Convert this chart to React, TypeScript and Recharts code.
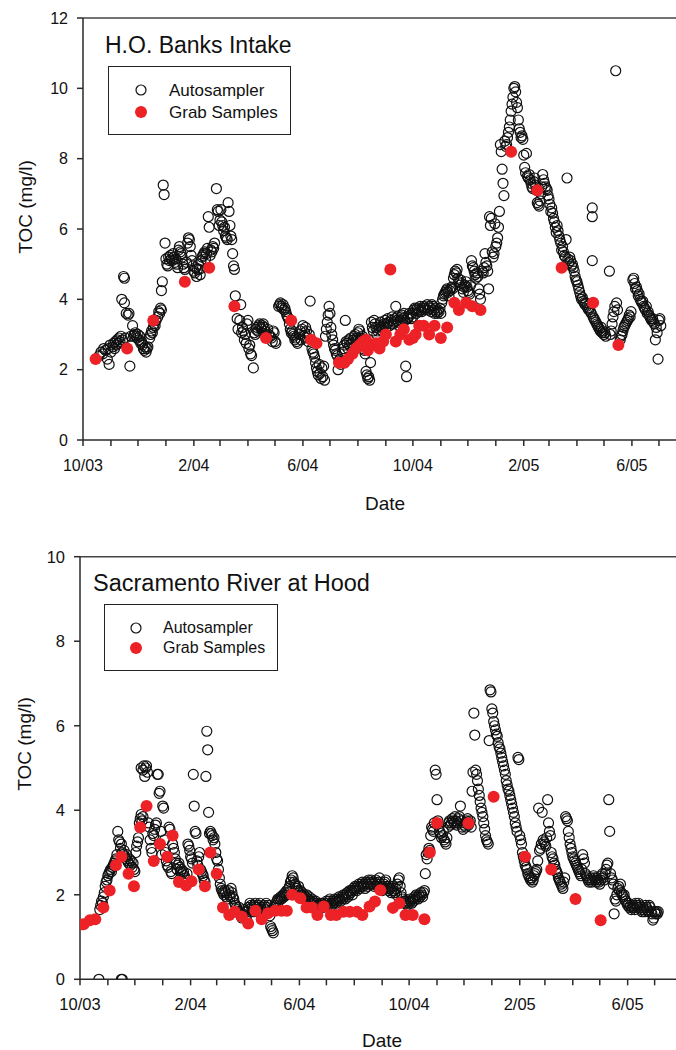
import React from 'react';
import { ScatterChart, Scatter, XAxis, YAxis, ReferenceLine } from 'recharts';

// x = days since 10/1/2003
const monthTicks = [0, 31, 61, 92, 123, 152, 183, 213, 244, 274, 305, 336, 366, 397, 427, 458, 489, 517, 548, 578, 609, 639];
const majorTicks = [0, 123, 244, 366, 489, 609];
const majorLabels = ['10/03', '2/04', '6/04', '10/04', '2/05', '6/05'];

const banksTicks = [0, 2, 4, 6, 8, 10, 12];
const hoodTicks = [0, 2, 4, 6, 8, 10];

// H.O. Banks Intake, autosampler [day, TOC mg/l]
const banksAuto = [
  [18, 2.4], [20, 2.5], [22, 2.45], [23, 2.6], [25, 2.55], [27, 2.3], [28, 2.6], [29, 2.15], [30, 2.7], [31, 2.5],
  [33, 2.65], [34, 2.75], [35, 2.6], [36, 2.8], [37, 2.7], [38, 2.85], [39, 2.75], [40, 2.9], [41, 2.8], [42, 2.95],
  [43, 4.0], [44, 2.85], [45, 4.65], [46, 4.6], [46, 3.9], [47, 2.9], [48, 3.6], [50, 3.55], [51, 3.6], [52, 2.1],
  [53, 2.95], [55, 3.25], [56, 2.95], [57, 3.0], [58, 3.05], [59, 2.95], [60, 2.9], [61, 3.0], [62, 2.85], [63, 2.95],
  [64, 2.75], [65, 2.8], [66, 2.7], [67, 2.6], [68, 2.55], [69, 2.65], [70, 2.5], [71, 2.6], [72, 2.65], [74, 2.9],
  [75, 3.0], [76, 3.1], [77, 3.05], [78, 3.2], [79, 3.3], [80, 3.25], [81, 3.4], [83, 3.5], [84, 3.65], [85, 3.6],
  [86, 3.75], [87, 3.7], [87, 4.25], [88, 4.5], [89, 7.25], [90, 6.98], [91, 5.6], [92, 5.15], [93, 5.0], [94, 4.95],
  [95, 5.2], [96, 5.1], [97, 5.25], [98, 5.15], [99, 5.1], [100, 5.3], [101, 5.2], [102, 5.05], [103, 5.15], [104, 5.0],
  [105, 4.9], [106, 5.4], [107, 5.5], [108, 5.35], [109, 5.3], [110, 5.2], [111, 5.0], [112, 4.9], [113, 4.85], [115, 5.05],
  [116, 5.6], [117, 5.75], [118, 5.7], [119, 5.5], [120, 5.25], [121, 5.1], [122, 4.95], [123, 4.8], [124, 4.75], [125, 4.9],
  [126, 4.65], [127, 4.85], [128, 5.0], [129, 4.85], [130, 4.7], [131, 5.1], [132, 5.2], [133, 5.25], [134, 5.3], [135, 5.35],
  [136, 5.15], [137, 5.3], [138, 5.45], [139, 6.35], [140, 6.05], [141, 5.25], [142, 5.4], [143, 5.35], [144, 5.5], [145, 5.45],
  [146, 5.6], [148, 7.15], [149, 6.55], [150, 6.5], [151, 6.1], [152, 6.25], [153, 6.55], [154, 6.2], [155, 6.1], [156, 5.95],
  [157, 6.05], [158, 5.8], [159, 5.75], [160, 5.7], [161, 6.75], [162, 6.5], [163, 6.1], [164, 5.8], [165, 5.7], [166, 5.3],
  [167, 4.95], [168, 4.85], [169, 4.1], [171, 3.45], [172, 3.15], [174, 3.4], [175, 3.85], [176, 3.05], [177, 3.2], [178, 3.1],
  [179, 2.85], [180, 3.0], [181, 2.75], [182, 3.3], [183, 3.4], [184, 2.6], [185, 2.7], [186, 2.45], [187, 2.4], [189, 2.05],
  [190, 3.05], [191, 3.0], [192, 3.15], [193, 3.2], [194, 3.1], [195, 3.25], [196, 3.3], [197, 3.2], [198, 3.15], [199, 3.25],
  [200, 3.3], [201, 3.2], [202, 3.1], [203, 3.0], [205, 3.15], [206, 3.0], [208, 2.95], [209, 2.9], [210, 2.8], [211, 3.1],
  [212, 3.05], [213, 2.8], [214, 2.75], [217, 3.8], [218, 3.85], [219, 3.9], [220, 3.8], [221, 3.75], [222, 3.85], [223, 3.7],
  [224, 3.75], [225, 3.65], [226, 3.55], [227, 3.5], [228, 3.45], [229, 3.3], [230, 3.15], [231, 3.05], [232, 3.1], [233, 3.0],
  [234, 2.95], [235, 2.85], [236, 2.9], [237, 2.8], [238, 2.75], [240, 3.0], [241, 3.1], [242, 2.85], [243, 3.15], [244, 3.25],
  [245, 2.95], [246, 3.05], [247, 3.2], [248, 3.1], [249, 2.9], [250, 2.8], [251, 3.0], [252, 3.95], [254, 2.6], [255, 2.5],
  [256, 2.45], [257, 2.35], [258, 2.2], [259, 2.05], [260, 1.95], [261, 1.85], [262, 2.15], [263, 1.9], [264, 1.75], [265, 2.05],
  [266, 1.8], [267, 2.1], [268, 1.7], [269, 2.95], [270, 3.15], [271, 3.35], [272, 3.55], [273, 3.8], [274, 3.6], [275, 3.2],
  [276, 3.0], [277, 2.85], [278, 2.7], [279, 2.6], [280, 2.55], [281, 2.45], [282, 2.4], [283, 2.0], [284, 2.25], [285, 2.3],
  [286, 2.15], [288, 2.5], [289, 2.6], [290, 2.7], [291, 3.4], [292, 2.8], [293, 2.75], [294, 2.6], [295, 2.85], [296, 2.7],
  [297, 2.9], [298, 2.75], [300, 2.85], [301, 2.95], [302, 3.0], [303, 2.8], [304, 2.9], [305, 3.05], [306, 3.15], [307, 3.1],
  [308, 2.9], [309, 2.85], [310, 2.95], [311, 2.6], [312, 2.55], [313, 2.45], [314, 1.95], [315, 1.85], [316, 1.75], [317, 1.8],
  [318, 1.7], [319, 2.2], [320, 3.35], [321, 3.2], [322, 3.1], [323, 3.4], [324, 3.3], [325, 3.2], [326, 3.0], [327, 3.1],
  [328, 3.25], [329, 3.15], [330, 3.35], [331, 3.2], [332, 3.1], [333, 3.25], [334, 3.3], [335, 3.4], [336, 3.2], [337, 3.3],
  [338, 3.45], [339, 3.35], [340, 3.25], [342, 3.4], [343, 3.5], [344, 3.3], [345, 3.35], [346, 3.45], [347, 3.8], [348, 3.4],
  [349, 3.5], [350, 3.35], [351, 3.25], [352, 3.4], [353, 3.5], [354, 3.55], [355, 3.45], [356, 3.6], [357, 3.4], [358, 2.1],
  [359, 1.8], [360, 3.45], [361, 3.5], [362, 3.6], [363, 3.55], [364, 3.45], [365, 3.6], [366, 3.5], [367, 3.7], [368, 3.75],
  [369, 3.7], [370, 3.6], [371, 3.75], [372, 3.7], [373, 3.65], [374, 3.8], [375, 3.7], [376, 3.65], [377, 3.75], [378, 3.8],
  [379, 3.7], [380, 3.75], [382, 3.85], [383, 3.7], [384, 3.8], [385, 3.75], [386, 3.65], [387, 3.85], [388, 3.8], [389, 3.7],
  [390, 3.6], [391, 3.75], [392, 3.65], [393, 3.6], [394, 3.7], [395, 3.65], [396, 3.75], [397, 3.6], [398, 3.9], [399, 4.0],
  [400, 4.1], [401, 4.15], [402, 4.2], [403, 4.25], [404, 4.3], [405, 4.2], [406, 4.1], [407, 4.25], [408, 4.3], [409, 4.35],
  [410, 4.3], [411, 4.6], [412, 4.7], [413, 4.8], [414, 4.75], [415, 4.85], [416, 4.6], [417, 4.5], [418, 4.4], [419, 4.55],
  [420, 4.45], [421, 4.3], [422, 4.2], [423, 4.35], [424, 4.4], [425, 4.5], [426, 4.35], [427, 4.25], [428, 4.2], [429, 4.15],
  [430, 4.4], [431, 5.1], [432, 4.95], [433, 4.9], [434, 4.8], [435, 4.7], [436, 4.6], [437, 4.75], [438, 4.65], [439, 4.3],
  [440, 4.15], [441, 4.0], [443, 4.8], [444, 4.75], [445, 4.9], [446, 5.3], [447, 5.05], [448, 4.95], [449, 4.8], [450, 4.3],
  [451, 6.35], [452, 6.1], [453, 6.3], [454, 5.35], [455, 5.2], [456, 5.3], [457, 6.15], [458, 5.5], [459, 5.6], [460, 5.75],
  [461, 6.05], [462, 6.5], [463, 8.4], [464, 8.2], [465, 7.7], [466, 7.3], [467, 6.95], [468, 8.5], [469, 8.35], [470, 8.4],
  [471, 8.6], [472, 8.75], [473, 8.9], [474, 9.1], [475, 9.35], [476, 9.55], [477, 9.75], [478, 10.0], [479, 10.05], [480, 9.9],
  [481, 9.6], [482, 9.45], [483, 9.1], [484, 8.85], [485, 8.75], [486, 8.6], [487, 8.65], [488, 8.55], [489, 8.1], [490, 7.75],
  [491, 7.6], [492, 8.15], [493, 7.5], [494, 7.45], [495, 7.55], [496, 7.4], [497, 7.3], [498, 7.2], [499, 7.15], [500, 7.35],
  [501, 7.45], [502, 7.25], [503, 7.1], [504, 6.75], [505, 6.7], [506, 6.65], [507, 6.8], [508, 7.0], [509, 7.2], [510, 7.55],
  [511, 7.4], [512, 7.3], [513, 7.2], [514, 7.15], [515, 7.1], [516, 6.95], [517, 6.85], [518, 6.7], [519, 6.5], [520, 6.6],
  [521, 6.45], [522, 6.3], [523, 6.2], [524, 6.05], [525, 5.9], [526, 6.1], [527, 5.95], [528, 5.8], [529, 5.7], [530, 5.6],
  [531, 5.4], [532, 5.5], [533, 5.35], [534, 5.25], [535, 5.2], [536, 5.7], [537, 7.45], [538, 5.15], [539, 5.05], [540, 5.2],
  [541, 5.1], [542, 4.95], [543, 5.0], [544, 4.9], [545, 4.8], [546, 4.65], [547, 4.55], [548, 4.5], [549, 4.4], [550, 4.3],
  [551, 4.2], [552, 4.1], [553, 4.0], [554, 4.05], [555, 3.95], [556, 3.9], [557, 3.85], [558, 3.9], [559, 3.8], [560, 3.75],
  [561, 3.7], [562, 3.75], [563, 3.65], [564, 3.6], [565, 6.6], [565, 6.35], [565, 5.1], [566, 3.5], [567, 3.45], [568, 3.4],
  [569, 3.35], [570, 3.3], [571, 3.25], [572, 3.2], [573, 3.15], [574, 3.1], [575, 3.2], [576, 3.05], [577, 3.1], [578, 3.0],
  [579, 3.05], [580, 2.95], [584, 4.8], [585, 3.0], [586, 3.1], [587, 3.3], [588, 3.5], [589, 3.65], [590, 3.8], [591, 10.5],
  [592, 3.9], [593, 3.7], [596, 2.85], [597, 2.95], [598, 3.0], [599, 3.1], [600, 3.2], [601, 3.25], [602, 3.3], [603, 3.35],
  [604, 3.4], [605, 3.45], [606, 3.55], [607, 3.5], [608, 3.65], [610, 4.55], [611, 4.6], [612, 4.45], [613, 4.3], [614, 4.35],
  [615, 4.25], [616, 4.1], [617, 4.15], [618, 4.0], [619, 3.95], [620, 3.9], [621, 3.95], [622, 3.8], [623, 3.75], [624, 3.7],
  [625, 3.8], [626, 3.6], [627, 3.65], [628, 3.55], [629, 3.5], [630, 3.45], [631, 3.4], [632, 3.45], [633, 3.35], [634, 3.3],
  [635, 2.85], [636, 3.2], [637, 3.05], [638, 2.3], [639, 3.4], [640, 3.45], [641, 3.25],
];

// H.O. Banks Intake, grab samples
const banksGrab = [
  [14, 2.3], [49, 2.6], [78, 3.4], [113, 4.5], [140, 4.9], [168, 3.8], [203, 2.9], [231, 3.4], [253, 2.85], [259, 2.75],
  [284, 2.2], [290, 2.2], [294, 2.3], [299, 2.45], [303, 2.6], [307, 2.7], [311, 2.8], [314, 2.85], [316, 2.55], [320, 2.7],
  [325, 2.75], [329, 2.6], [333, 2.8], [336, 3.0], [341, 4.85], [347, 2.8], [352, 3.0], [356, 3.15], [362, 2.85], [366, 2.9],
  [369, 3.0], [373, 3.25], [378, 3.25], [384, 3.0], [390, 3.25], [397, 2.9], [404, 3.2], [412, 3.9], [417, 3.7], [425, 3.9],
  [432, 3.8], [441, 3.7], [475, 8.2], [504, 7.1], [531, 4.9], [566, 3.9], [594, 2.7],
];

// Sacramento River at Hood, autosampler
const hoodAuto = [
  [21, 0], [46, 0], [47, 0],
  [22, 1.65], [23, 1.75], [24, 1.85], [25, 1.8], [26, 1.95], [27, 2.05], [28, 2.2], [29, 2.3], [30, 2.35], [31, 2.45],
  [32, 2.5], [33, 2.55], [34, 2.6], [35, 2.55], [36, 2.65], [37, 2.7], [38, 2.75], [39, 2.8], [40, 2.85], [41, 2.95],
  [42, 3.5], [43, 3.3], [44, 3.25], [45, 3.1], [46, 3.2], [47, 3.0], [48, 2.95], [49, 3.05], [50, 2.9], [51, 2.85],
  [52, 2.95], [53, 2.8], [54, 2.75], [55, 2.85], [56, 2.7], [57, 2.8], [58, 2.65], [59, 2.75], [60, 2.6], [61, 2.55],
  [62, 3.0], [63, 3.15], [64, 3.25], [65, 3.35], [66, 3.7], [67, 3.8], [68, 3.9], [69, 3.75], [70, 3.85], [68, 5.0],
  [70, 4.95], [71, 5.05], [72, 4.8], [73, 5.0], [74, 5.05], [75, 4.9], [76, 3.7], [77, 3.6], [78, 3.3], [79, 3.1],
  [80, 3.0], [81, 3.45], [82, 3.4], [83, 3.55], [84, 3.65], [85, 3.7], [86, 4.85], [87, 4.85], [88, 4.4], [89, 4.45],
  [90, 3.5], [91, 2.95], [92, 4.1], [93, 4.05], [94, 3.3], [95, 3.0], [96, 2.8], [97, 2.7], [98, 2.65], [99, 3.6],
  [100, 3.55], [101, 2.55], [102, 2.5], [103, 3.2], [104, 3.1], [105, 3.0], [106, 2.85], [107, 2.75], [108, 2.6], [109, 2.7],
  [110, 2.75], [111, 2.65], [112, 2.55], [113, 2.6], [114, 2.5], [115, 2.55], [116, 2.45], [117, 2.4], [118, 2.35], [119, 2.5],
  [120, 3.2], [121, 3.15], [122, 3.05], [123, 2.9], [124, 2.85], [125, 2.75], [126, 4.85], [127, 4.1], [128, 3.5], [129, 3.45],
  [130, 2.8], [131, 2.7], [132, 2.9], [133, 3.0], [134, 2.6], [135, 2.55], [136, 2.5], [137, 2.45], [138, 2.35], [139, 2.3],
  [140, 4.8], [141, 5.87], [142, 5.43], [143, 3.95], [144, 3.45], [145, 3.5], [146, 3.45], [147, 3.4], [148, 3.3], [149, 3.35],
  [150, 3.2], [151, 3.0], [152, 2.85], [153, 2.8], [154, 2.6], [155, 2.4], [156, 2.25], [157, 2.15], [158, 2.1], [159, 2.05],
  [160, 2.0], [161, 2.1], [162, 2.05], [163, 1.95], [164, 1.9], [165, 2.1], [166, 2.0], [167, 1.95], [168, 2.15], [169, 2.05],
  [170, 1.95], [171, 1.9], [172, 1.8], [173, 1.75], [174, 1.7], [175, 1.65], [176, 1.6], [177, 1.7], [178, 1.55], [179, 1.5],
  [180, 1.45], [181, 1.55], [182, 1.65], [183, 1.6], [184, 1.5], [185, 1.45], [186, 1.6], [187, 1.7], [188, 1.65], [189, 1.8],
  [190, 1.75], [191, 1.7], [192, 1.65], [193, 1.6], [194, 1.75], [195, 1.8], [196, 1.7], [197, 1.6], [198, 1.65], [199, 1.75],
  [200, 1.8], [201, 1.7], [202, 1.65], [203, 1.6], [204, 1.7], [205, 1.75], [206, 1.65], [207, 1.8], [208, 1.7], [209, 1.75],
  [210, 1.6], [211, 1.5], [212, 1.25], [213, 1.2], [214, 1.15], [215, 1.1], [216, 1.7], [217, 1.75], [218, 1.8], [219, 1.85],
  [220, 1.9], [221, 1.85], [222, 1.9], [223, 1.95], [224, 1.9], [225, 1.95], [226, 2.0], [227, 1.95], [228, 2.05], [229, 2.0],
  [230, 2.1], [231, 2.05], [232, 2.15], [233, 2.2], [234, 2.3], [235, 2.35], [236, 2.45], [237, 2.4], [238, 2.3], [239, 2.25],
  [240, 2.2], [241, 2.15], [242, 2.1], [243, 2.2], [244, 2.05], [245, 2.1], [246, 2.0], [247, 2.05], [248, 1.95], [249, 2.0],
  [250, 1.9], [251, 1.95], [252, 2.0], [253, 1.85], [254, 1.9], [255, 1.95], [256, 1.85], [257, 1.8], [258, 1.9], [259, 1.85],
  [260, 1.8], [261, 1.75], [262, 1.85], [263, 1.8], [264, 1.75], [265, 1.7], [266, 1.75], [267, 1.8], [268, 1.75], [269, 1.8],
  [270, 1.7], [271, 1.75], [272, 1.8], [273, 1.75], [274, 1.85], [275, 1.8], [276, 1.75], [277, 1.85], [278, 1.9], [279, 1.8],
  [280, 1.75], [281, 1.85], [282, 1.8], [283, 1.9], [284, 1.85], [285, 1.8], [286, 1.9], [287, 1.85], [288, 1.95], [289, 1.9],
  [290, 1.85], [291, 1.95], [292, 1.9], [293, 2.0], [294, 1.95], [295, 1.9], [296, 2.0], [297, 2.05], [298, 1.95], [299, 2.0],
  [300, 2.1], [301, 2.05], [302, 2.1], [303, 2.0], [304, 2.15], [305, 2.1], [306, 2.2], [307, 2.15], [308, 2.1], [309, 2.2],
  [310, 2.25], [311, 2.15], [312, 2.2], [313, 2.25], [314, 2.3], [315, 2.2], [316, 2.25], [317, 2.15], [318, 2.3], [319, 2.25],
  [320, 2.2], [321, 2.35], [322, 2.3], [323, 2.25], [324, 2.35], [325, 2.3], [326, 2.25], [327, 2.2], [328, 2.3], [329, 2.35],
  [330, 2.25], [331, 2.2], [332, 2.3], [333, 2.4], [334, 2.25], [335, 2.2], [336, 2.1], [337, 2.15], [338, 2.25], [339, 2.3],
  [340, 2.35], [341, 2.2], [342, 2.15], [343, 2.1], [344, 2.2], [345, 2.15], [346, 2.05], [347, 2.1], [348, 2.2], [349, 2.1],
  [350, 2.05], [351, 2.15], [352, 2.0], [353, 2.25], [354, 2.35], [355, 2.4], [356, 2.2], [357, 2.05], [358, 1.95], [359, 1.9],
  [360, 1.85], [361, 1.8], [362, 1.85], [363, 1.8], [364, 1.75], [365, 1.85], [366, 1.8], [367, 1.9], [368, 1.85], [369, 1.8],
  [370, 1.9], [371, 1.85], [372, 1.95], [373, 1.9], [374, 2.0], [375, 1.95], [376, 1.9], [377, 2.0], [378, 1.95], [379, 2.05],
  [380, 2.0], [381, 1.95], [382, 2.05], [383, 2.1], [384, 2.5], [385, 2.95], [386, 2.85], [387, 3.0], [388, 3.1], [389, 3.05],
  [390, 3.4], [391, 3.6], [392, 3.55], [393, 3.5], [394, 3.7], [395, 4.95], [396, 4.85], [397, 4.25], [398, 3.75], [399, 3.6],
  [400, 3.5], [401, 3.45], [402, 3.35], [403, 3.4], [404, 3.5], [405, 3.3], [406, 3.25], [407, 3.2], [408, 3.35], [409, 3.6],
  [410, 3.7], [411, 3.75], [412, 3.65], [413, 3.7], [414, 3.8], [415, 3.75], [416, 3.7], [417, 3.85], [418, 3.75], [419, 3.65],
  [420, 3.7], [421, 3.8], [422, 3.85], [423, 4.1], [424, 3.75], [425, 3.6], [426, 3.55], [427, 3.65], [428, 3.7], [429, 3.6],
  [430, 3.75], [431, 3.8], [432, 3.65], [433, 3.7], [434, 3.75], [435, 3.6], [436, 4.45], [437, 4.9], [438, 6.3], [439, 5.78],
  [440, 4.95], [441, 4.85], [442, 4.7], [443, 4.5], [444, 4.35], [445, 4.2], [446, 4.05], [447, 3.95], [448, 3.85], [449, 3.7],
  [450, 3.55], [451, 3.4], [452, 3.3], [453, 3.25], [454, 3.2], [455, 5.65], [456, 6.85], [457, 6.8], [458, 6.4], [459, 6.3],
  [460, 6.1], [461, 6.0], [462, 5.9], [463, 5.8], [464, 5.75], [465, 5.6], [466, 5.5], [467, 5.45], [468, 5.35], [469, 5.25],
  [470, 5.15], [471, 5.05], [472, 4.95], [473, 4.85], [474, 4.7], [475, 4.6], [476, 4.5], [477, 4.45], [478, 4.35], [479, 4.25],
  [480, 4.15], [481, 4.05], [482, 3.95], [483, 3.85], [484, 3.7], [485, 3.6], [486, 3.5], [487, 5.25], [488, 5.2], [489, 3.4],
  [490, 3.3], [491, 3.2], [492, 3.0], [493, 2.9], [494, 2.8], [495, 2.7], [496, 2.65], [497, 2.6], [498, 2.5], [499, 2.45],
  [500, 2.4], [501, 2.35], [502, 2.4], [503, 2.3], [504, 2.35], [505, 2.45], [506, 2.5], [507, 2.55], [508, 2.6], [509, 2.8],
  [510, 4.05], [511, 3.05], [512, 3.1], [513, 3.2], [514, 3.95], [515, 3.3], [516, 3.25], [517, 3.2], [518, 3.15], [519, 3.35],
  [520, 4.25], [521, 3.7], [522, 3.5], [523, 3.4], [524, 3.0], [525, 2.9], [526, 2.85], [527, 2.75], [528, 2.7], [529, 2.6],
  [530, 2.55], [531, 2.5], [532, 2.4], [533, 2.35], [534, 2.3], [535, 2.25], [536, 2.2], [537, 2.15], [538, 2.3], [539, 2.4],
  [540, 3.85], [541, 3.8], [542, 3.75], [543, 3.5], [544, 3.35], [545, 3.2], [546, 3.1], [547, 3.0], [548, 2.9], [549, 2.85],
  [550, 2.8], [551, 2.75], [552, 2.7], [553, 2.65], [554, 2.6], [555, 2.55], [556, 2.5], [557, 2.45], [558, 2.6], [559, 2.95],
  [560, 2.85], [561, 2.75], [562, 2.5], [563, 2.45], [564, 2.4], [565, 2.35], [566, 2.3], [567, 2.35], [568, 2.4], [569, 2.3],
  [570, 2.35], [571, 2.45], [572, 2.4], [573, 2.35], [574, 2.3], [575, 2.4], [576, 2.35], [577, 2.3], [578, 2.25], [579, 2.35],
  [580, 2.45], [581, 2.5], [582, 2.4], [583, 2.35], [584, 2.5], [585, 2.6], [586, 2.7], [587, 2.75], [588, 4.25], [589, 3.5],
  [590, 2.5], [591, 2.4], [592, 2.35], [593, 2.25], [594, 1.55], [595, 1.9], [596, 1.85], [597, 2.0], [598, 2.15], [599, 2.2],
  [600, 2.1], [601, 2.25], [602, 2.05], [603, 2.0], [604, 1.95], [605, 2.0], [606, 1.9], [607, 1.85], [608, 1.8], [609, 1.75],
  [610, 1.8], [611, 1.7], [612, 1.75], [613, 1.65], [614, 1.7], [615, 1.75], [616, 1.7], [617, 1.65], [618, 1.8], [619, 1.75],
  [620, 1.7], [621, 1.8], [622, 1.75], [623, 1.7], [624, 1.65], [625, 1.6], [626, 1.7], [627, 1.65], [628, 1.6], [629, 1.75],
  [630, 1.7], [631, 1.65], [632, 1.6], [633, 1.75], [634, 1.7], [635, 1.6], [636, 1.55], [637, 1.4], [638, 1.45], [639, 1.6],
  [640, 1.55], [641, 1.6], [642, 1.55], [643, 1.6],
];

// Sacramento River at Hood, grab samples
const hoodGrab = [
  [4, 1.3], [11, 1.4], [17, 1.42], [26, 1.7], [33, 2.1], [40, 2.7], [46, 2.9], [54, 2.5], [60, 2.2], [67, 3.6],
  [74, 4.1], [82, 2.8], [89, 3.2], [97, 2.9], [103, 3.4], [110, 2.3], [118, 2.22], [124, 2.32], [132, 2.6], [139, 2.2],
  [145, 3.0], [152, 2.5], [159, 1.7], [166, 1.52], [172, 1.6], [180, 1.48], [187, 1.32], [195, 1.62], [202, 1.42], [209, 1.56],
  [217, 1.62], [224, 1.62], [230, 1.62], [236, 2.0], [245, 1.92], [252, 1.7], [258, 1.7], [264, 1.52], [271, 1.72], [279, 1.52],
  [285, 1.52], [293, 1.6], [300, 1.6], [308, 1.6], [314, 1.52], [322, 1.72], [328, 1.84], [334, 2.11], [348, 1.69], [355, 1.8],
  [362, 1.52], [370, 1.52], [383, 1.42], [389, 3.0], [397, 3.7], [432, 3.69], [460, 4.32], [495, 2.9], [524, 2.6], [551, 1.9],
  [579, 1.4],
];

const toPoints = (rows: number[][]) => rows.map(([day, toc]) => ({ day, toc }));

const FONT = '"Liberation Sans", Arial, sans-serif';
const AXIS = '#2a2a2a';
const RED = '#ec2227';

const OpenDot = (p: any) => <circle cx={p.cx} cy={p.cy} r={5} fill="none" stroke="#111" strokeWidth={1.2} />;
const RedDot = (p: any) => <circle cx={p.cx} cy={p.cy} r={6} fill={RED} />;

const dateLabel = (v: number) => {
  const i = majorTicks.indexOf(v);
  return i >= 0 ? majorLabels[i] : '';
};

type PanelProps = {
  top: number;
  auto: number[][];
  grab: number[][];
  yMax: number;
  yTicks: number[];
  margin: { top: number; right: number; bottom: number; left: number };
  fontSize: number;
  xTickMargin: number;
};

const Panel: React.FC<PanelProps> = ({ top, auto, grab, yMax, yTicks, margin, fontSize, xTickMargin }) => (
  <div style={{ position: 'absolute', left: 0, top }}>
    <ScatterChart width={700} height={480} margin={margin}>
      <XAxis
        type="number"
        dataKey="day"
        domain={[0, 669]}
        ticks={monthTicks}
        interval={0}
        tickFormatter={dateLabel}
        height={30}
        tickSize={6}
        tickMargin={xTickMargin}
        stroke={AXIS}
        strokeWidth={1.5}
        tick={{ fill: '#111', fontSize, fontFamily: FONT }}
        allowDataOverflow
      />
      <YAxis
        type="number"
        dataKey="toc"
        domain={[0, yMax]}
        ticks={yTicks}
        interval={0}
        width={60}
        tickSize={6}
        tickMargin={9}
        stroke={AXIS}
        strokeWidth={1.5}
        tick={{ fill: '#111', fontSize, fontFamily: FONT }}
        allowDataOverflow
      />
      <ReferenceLine y={yMax} stroke="#444" strokeWidth={1.5} />
      <Scatter data={toPoints(auto)} shape={OpenDot} isAnimationActive={false} />
      <Scatter data={toPoints(grab)} shape={RedDot} isAnimationActive={false} />
    </ScatterChart>
  </div>
);

const text = (left: number, top: number, fontSize: number, content: string, extra: React.CSSProperties = {}) => (
  <div
    style={{
      position: 'absolute',
      left,
      top,
      fontSize,
      lineHeight: 1,
      fontFamily: FONT,
      color: '#111',
      whiteSpace: 'nowrap',
      ...extra,
    }}
  >
    {content}
  </div>
);

type LegendProps = { left: number; top: number; width: number; height: number; symX: number; rows: number[]; textX: number; fontSize: number };

const LegendBox: React.FC<LegendProps> = ({ left, top, width, height, symX, rows, textX, fontSize }) => (
  <>
    <div style={{ position: 'absolute', left, top, width, height, border: '1.3px solid #222', boxSizing: 'border-box' }} />
    <svg style={{ position: 'absolute', left: 0, top: 0, overflow: 'visible' }} width={1} height={1}>
      <circle cx={symX} cy={rows[0]} r={5} fill="none" stroke="#111" strokeWidth={1.2} />
      <circle cx={symX} cy={rows[1]} r={6} fill={RED} />
    </svg>
    {text(textX, rows[0] - 0.4885 * fontSize, fontSize, 'Autosampler')}
    {text(textX, rows[1] - 0.4885 * fontSize, fontSize, 'Grab Samples')}
  </>
);

const App: React.FC = () => {
  return (
    <div style={{ position: 'absolute', left: 0, top: 0, width: 676, height: 1050, overflow: 'hidden', background: '#fff' }}>
      <Panel
        top={0}
        auto={banksAuto}
        grab={banksGrab}
        yMax={12}
        yTicks={banksTicks}
        margin={{ top: 18, right: 14, bottom: 10, left: 23 }}
        fontSize={16}
        xTickMargin={14}
      />
      <Panel
        top={540}
        auto={hoodAuto}
        grab={hoodGrab}
        yMax={10}
        yTicks={hoodTicks}
        margin={{ top: 16.7, right: 18.4, bottom: 10.7, left: 20 }}
        fontSize={16.5}
        xTickMargin={13}
      />

      {text(105, 33.8, 23, 'H.O. Banks Intake')}
      <LegendBox left={108} top={66} width={183} height={69} symX={141} rows={[90, 112]} textX={169} fontSize={17} />
      {text(385, 493.7, 19, 'Date', { transform: 'translateX(-50%)' })}
      {text(25, 207, 19, 'TOC (mg/l)', { transform: 'translate(-50%, -50%) rotate(-90deg)', lineHeight: '19px' })}

      {text(93, 571.5, 23.5, 'Sacramento River at Hood')}
      <LegendBox left={104} top={604} width={174} height={67} symX={136} rows={[628, 648]} textX={163} fontSize={16} />
      {text(382, 1030.7, 19, 'Date', { transform: 'translateX(-50%)' })}
      {text(23.5, 743.5, 19, 'TOC (mg/l)', { transform: 'translate(-50%, -50%) rotate(-90deg)', lineHeight: '19px' })}
    </div>
  );
};

export default App;
